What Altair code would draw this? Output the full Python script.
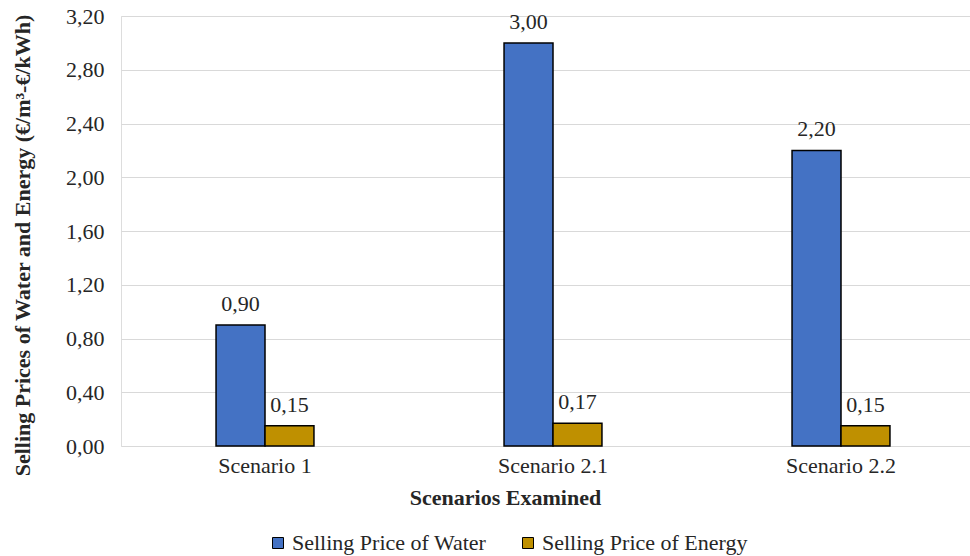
import altair as alt
import pandas as pd

scenarios = ["Scenario 1", "Scenario 2.1", "Scenario 2.2"]
series = ["Selling Price of Water", "Selling Price of Energy"]
water = [0.90, 3.00, 2.20]
energy = [0.15, 0.17, 0.15]
y_ticks = [0.0, 0.4, 0.8, 1.2, 1.6, 2.0, 2.4, 2.8, 3.2]
colors = ["#4472C4", "#BF9000"]

rows = []
for i, s in enumerate(scenarios):
    rows.append({"Scenario": s, "Series": series[0], "Value": water[i]})
    rows.append({"Scenario": s, "Series": series[1], "Value": energy[i]})
df = pd.DataFrame(rows)
df["Label"] = df["Value"].map(lambda v: f"{v:.2f}".replace(".", ","))

FONT = "Liberation Serif, serif"
TXT = "#262626"
FS = 22

base = alt.Chart(df).encode(
    x=alt.X(
        "Scenario:N",
        sort=scenarios,
        scale=alt.Scale(range=[0, 864], paddingInner=0.66, paddingOuter=0.33),
        axis=alt.Axis(
            title="Scenarios Examined",
            labelAngle=0,
            labelFont=FONT,
            labelFontSize=FS,
            labelColor=TXT,
            labelPadding=9,
            ticks=False,
            domain=False,
            titleFont=FONT,
            titleFontSize=FS,
            titleFontWeight="bold",
            titleColor=TXT,
            titleX=384,
            titleY=51,
            titleBaseline="middle",
        ),
    ),
    xOffset=alt.XOffset("Series:N", sort=series, scale=alt.Scale(paddingInner=0, paddingOuter=0)),
    y=alt.Y(
        "Value:Q",
        scale=alt.Scale(domain=[0, 3.2]),
        axis=alt.Axis(
            title="Selling Prices of Water and Energy (€/m³-€/kWh)",
            values=y_ticks,
            labelExpr="replace(format(datum.value, '.2f'), '.', ',')",
            labelFont=FONT,
            labelFontSize=FS,
            labelColor=TXT,
            labelPadding=17,
            ticks=False,
            domain=False,
            grid=True,
            gridColor="#D9D9D9",
            gridWidth=1,
            titleFont=FONT,
            titleFontSize=FS,
            titleFontWeight="bold",
            titleColor=TXT,
            titleX=-99,
            titleY=229,
            titleAngle=270,
            titleBaseline="middle",
        ),
    ),
)

bars = base.mark_bar(stroke="black", strokeWidth=1.5).encode(
    color=alt.Color(
        "Series:N",
        sort=series,
        scale=alt.Scale(domain=series, range=colors),
        legend=alt.Legend(
            title=None,
            orient="none",
            legendX=146,
            legendY=516,
            direction="horizontal",
            symbolType="square",
            symbolSize=121,
            symbolStrokeColor="black",
            symbolStrokeWidth=1,
            labelFont=FONT,
            labelFontSize=FS,
            labelColor=TXT,
            labelOffset=3,
            labelLimit=0,
            columnPadding=30,
        ),
    )
)

labels = base.mark_text(dy=-14, baseline="alphabetic", font=FONT, fontSize=FS, color=TXT).encode(
    text="Label:N"
)

chart = (
    alt.layer(bars, labels)
    .properties(
        width=849,
        height=430,
        autosize=alt.AutoSizeParams(type="none"),
        padding={"left": 121, "top": 16, "right": 0, "bottom": 110},
    )
    .configure_view(stroke=None)
    .configure_legend(labelFont=FONT, labelFontSize=FS, labelColor=TXT)
    .configure(
        background="white",
        font=FONT,
        style={"guide-label": {"font": FONT, "fontSize": FS}},
    )
)

chart.save("out.html", embed_options={"renderer": "svg", "actions": False})
